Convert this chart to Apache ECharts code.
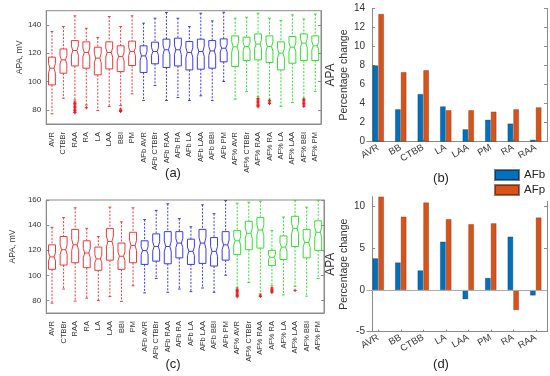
<!DOCTYPE html>
<html><head><meta charset="utf-8">
<script src="https://cdn.jsdelivr.net/npm/echarts@6/dist/echarts.min.js"></script>
<style>html,body{margin:0;padding:0;background:#fff}#c{width:550px;height:376px}</style>
</head><body><div id="c"></div>
<script>
const boxCats = ['AVR','CTBBr','RAA','RA','LA','LAA','BBI','PM',
  'AFb AVR','AFb CTBBr','AFb RAA','AFb RA','AFb LA','AFb LAA','AFb BBI','AFb PM',
  'AF% AVR','AF% CTBBr','AF% RAA','AF% RA','AF% LA','AF% LAA','AF% BBI','AF% PM'];
// each: [lower whisker, Q1, median, Q3, upper whisker]  (APA, mV)
const boxA = [
  [77.2,97.6,109.4,117.2,135.3],[88.2,105.9,115.3,123.0,138.8],[87.0,111.0,121.9,128.9,146.4],[83.5,109.4,120.5,128.0,137.6],
  [79.5,104.7,116.5,124.2,131.0],[82.4,108.9,120.5,128.0,145.9],[83.0,107.0,117.6,125.2,138.8],[91.3,111.3,121.2,128.5,146.4],
  [86.6,106.4,118.1,125.2,141.2],[97.2,112.5,121.2,127.8,144.7],[86.6,109.9,122.4,129.9,148.7],[88.7,111.0,122.4,130.6,144.7],
  [86.6,108.2,120.5,128.2,138.8],[89.9,108.7,121.2,129.9,148.2],[86.6,109.4,121.6,128.9,142.8],[100.0,113.9,123.5,130.1,148.9],
  [87.5,110.6,124.5,132.2,144.7],[92.9,114.8,124.7,131.3,145.4],[89.4,115.3,126.4,133.6,148.2],[87.5,113.4,124.7,132.2,144.7],
  [82.4,108.2,120.0,128.0,143.1],[85.2,112.9,124.2,131.8,147.1],[88.2,114.8,127.1,133.6,144.2],[92.9,114.8,125.2,132.2,147.6]
];
// outliers: [category index, value]
const outA = [
  [2,85.5],[2,84.5],[2,83.5],[2,82.5],[2,81.5],[2,80.5],[2,79.5],[2,78.5],[2,78.0],
  [3,81.5],[6,80.5],[6,79.5],[6,78.8],
  [18,88.0],[18,87.0],[18,86.0],[18,85.0],[18,84.0],[18,83.0],[18,82.2],
  [19,86.5],[19,85.5],[19,84.5],
  [22,87.5],[22,86.5],[22,85.5],[22,84.5],[22,83.5],[22,82.5]
];
const boxC = [
  [77.9,104.8,114.7,124.3,138.2],[89.1,108.2,120.4,130.9,146.0],[79.5,110.0,124.3,136.6,153.8],[81.8,106.1,117.8,127.5,137.4],
  [80.0,104.0,113.1,122.5,130.9],[83.1,112.1,127.0,137.4,154.3],[79.2,104.8,115.2,125.7,142.6],[91.7,110.0,123.8,134.3,153.8],
  [86.0,108.7,119.7,127.5,144.4],[97.5,111.3,123.0,133.0,151.7],[86.5,109.2,123.0,134.8,157.0],[89.1,113.9,125.7,134.8,145.2],
  [87.0,108.7,119.1,128.8,138.7],[89.9,109.5,125.7,136.6,156.2],[86.5,107.4,119.1,130.1,149.1],[100.1,112.1,124.3,134.8,159.6],
  [90.4,116.5,127.5,135.6,157.5],[94.3,120.4,133.5,143.1,158.3],[85.2,121.7,136.1,146.0,159.0],[91.7,107.9,114.4,119.9,135.6],
  [84.4,112.6,122.5,131.4,146.5],[91.2,123.0,137.4,147.0,159.6],[83.4,113.9,126.2,136.6,154.3],[97.5,119.9,134.3,143.4,159.8]
];
const outC = [
  [16,89.0],[16,88.0],[16,87.0],[16,86.0],[16,85.0],[16,84.0],[16,83.0],
  [18,84.2],[18,83.2],
  [19,90.0],[19,89.0],[19,88.0],[19,87.0],[19,86.5],
  [21,88.0]
];
const barCats = ['AVR','BB','CTBB','LA','LAA','PM','RA','RAA'];
const afbB = [8.0,3.4,5.0,3.7,1.3,2.3,1.9,0.2];
const afpB = [13.4,7.3,7.5,3.3,3.3,3.15,3.4,3.6];
const afbD = [3.8,3.3,2.35,5.8,-1.1,1.45,6.4,-0.65];
const afpD = [11.2,8.8,10.5,8.5,7.9,8.0,-2.4,8.7];
const yTicksA = [80,100,120,140];
const yTicksC = [80,100,120,140,160];
const yTicksD = [-5,0,5,10];

const groupColors = ['#f03a3a','#3a3af0','#33e033'];
const FONT = 'Liberation Sans, Arial, sans-serif';
const AX = '#8a8a8a';
const TXT = '#333';

function boxRender(params, api){
  const i = api.value(0);
  const lo=api.value(1), q1=api.value(2), md=api.value(3), q3=api.value(4), hi=api.value(5);
  const band = api.size([1,0])[0];
  const hw = band*0.3, cw = band*0.12;
  const c = groupColors[Math.floor(i/8)];
  const cx = api.coord([i, md])[0];
  const y = v => api.coord([i, v])[1];
  const n = Math.min((q3-q1)*0.17, md-q1, q3-md);
  const yq1=y(q1), yq3=y(q3), ym=y(md), yn1=y(md-n), yn2=y(md+n);
  const hn = hw*0.6;
  const dash = {stroke:c, lineWidth:1, lineDash:[2,1.5], fill:null};
  const solid = {stroke:c, lineWidth:1, fill:null};
  return {type:'group', children:[
    {type:'line', shape:{x1:cx,y1:y(hi),x2:cx,y2:yq3}, style:dash},
    {type:'line', shape:{x1:cx,y1:yq1,x2:cx,y2:y(lo)}, style:dash},
    {type:'line', shape:{x1:cx-cw,y1:y(hi),x2:cx+cw,y2:y(hi)}, style:solid},
    {type:'line', shape:{x1:cx-cw,y1:y(lo),x2:cx+cw,y2:y(lo)}, style:solid},
    {type:'polygon', shape:{points:[[cx-hw,yq1],[cx-hw,yn1],[cx-hn,ym],[cx-hw,yn2],[cx-hw,yq3],
      [cx+hw,yq3],[cx+hw,yn2],[cx+hn,ym],[cx+hw,yn1],[cx+hw,yq1]]}, style:{stroke:c,lineWidth:1,fill:'none'}},
    {type:'line', shape:{x1:cx-hn,y1:ym,x2:cx+hn,y2:ym}, style:solid}
  ]};
}
function outRender(params, api){
  const p = api.coord([api.value(0), api.value(1)]);
  const s = 1.6, st = {stroke:'#f01818', lineWidth:1};
  return {type:'group', children:[
    {type:'line', shape:{x1:p[0]-s,y1:p[1],x2:p[0]+s,y2:p[1]}, style:st},
    {type:'line', shape:{x1:p[0],y1:p[1]-s,x2:p[0],y2:p[1]+s}, style:st}
  ]};
}

function boxX(grid){
  return {gridIndex:grid, type:'category', data:boxCats,
    axisLine:{lineStyle:{color:AX}}, axisTick:{show:false},
    axisLabel:{rotate:90, interval:0, fontSize:7.5, color:TXT, margin:8, fontFamily:FONT}};
}
function boxY(grid, min, max, ticks, right){
  return {gridIndex:grid, type:'value', min:min, max:max, position: right?'right':'left',
    splitLine:{show:false}, axisLine:{show:true, lineStyle:{color:AX}},
    axisTick:{show:true, inside:true, length:3, customValues:ticks, lineStyle:{color:AX}},
    axisLabel:{show:!right, customValues:ticks, fontSize:8, color:TXT, margin:5, fontFamily:FONT},
    name: right?'':'APA, mV', nameLocation:'middle', nameGap:16, nameRotate:90,
    nameTextStyle:{fontSize:8.5, color:TXT, fontFamily:FONT, padding:[0,0,0,20]}};
}
function barX(grid){
  return {gridIndex:grid, type:'category', data:barCats, position:'bottom',
    axisLine:{onZero:false, lineStyle:{color:AX}},
    axisTick:{show:true, inside:true, alignWithLabel:true, length:2, lineStyle:{color:AX}},
    axisLabel:{rotate:30, interval:0, fontSize:9.5, color:TXT, margin:5, fontFamily:FONT}};
}
function barTop(grid){
  return {gridIndex:grid, type:'category', data:barCats, position:'top',
    axisLine:{lineStyle:{color:AX}}, axisTick:{show:false}, axisLabel:{show:false}};
}
function barY(grid, min, max, opts, right){
  const o = {gridIndex:grid, type:'value', min:min, max:max, position: right?'right':'left',
    offset: right?0:-5,
    splitLine:{show:false}, axisLine:{show:true, onZero:false, lineStyle:{color:AX}},
    axisTick:{show:true, inside:true, length:3, lineStyle:{color:AX}},
    axisLabel:{show:!right, fontSize:10, color:TXT, margin:7, fontFamily:FONT}};
  if (opts.interval) o.interval = opts.interval;
  if (opts.ticks){ o.axisTick.customValues = opts.ticks; o.axisLabel.customValues = opts.ticks; }
  if (!right){
    o.name = '{a|APA}\n{b|Percentage change}';
    o.nameLocation='middle'; o.nameGap=20; o.nameRotate=90;
    o.nameTextStyle = {color:TXT, fontFamily:FONT, rich:{a:{fontSize:12, lineHeight:14, fontFamily:FONT, color:TXT}, b:{fontSize:10.5, lineHeight:13, fontFamily:FONT, color:TXT}}};
  }
  return o;
}

const chart = echarts.init(document.getElementById('c'), null, {renderer:'canvas'});
chart.setOption({
  animation:false,
  textStyle:{fontFamily:FONT},
  grid:[
    {left:29, top:10.7, width:292, height:113.3, show:true, borderColor:AX, borderWidth:1, backgroundColor:'transparent'},
    {left:32, top:200, width:292, height:113, show:true, borderColor:AX, borderWidth:1, backgroundColor:'transparent'},
    {left:367, top:8.3, width:180, height:133.4},
    {left:367, top:196.7, width:180, height:135}
  ],
  xAxis:[boxX(0), boxX(1), barX(2), barX(3), barTop(2), barTop(3)],
  yAxis:[
    boxY(0,70,150,yTicksA,false), boxY(0,70,150,yTicksA,true),
    boxY(1,70,160,yTicksC,false), boxY(1,70,160,yTicksC,true),
    barY(2,0,14,{interval:2},false), barY(2,0,14,{interval:2},true),
    barY(3,-5,11.2,{ticks:yTicksD},false), barY(3,-5,11.2,{ticks:yTicksD},true)
  ],
  legend:{data:['AFb','AFp'], orient:'vertical', left:489, top:164, itemWidth:24, itemHeight:10, itemGap:3,
    icon:'rect', textStyle:{fontSize:11.5, color:'#222', fontFamily:FONT}, backgroundColor:'#fff'},
  series:[
    {type:'custom', xAxisIndex:0, yAxisIndex:0, renderItem:boxRender, encode:{x:0, y:[1,2,3,4,5]},
      data: boxA.map((d,i)=>[i].concat(d))},
    {type:'custom', xAxisIndex:0, yAxisIndex:0, renderItem:outRender, encode:{x:0, y:1}, data: outA},
    {type:'custom', xAxisIndex:1, yAxisIndex:2, renderItem:boxRender, encode:{x:0, y:[1,2,3,4,5]},
      data: boxC.map((d,i)=>[i].concat(d))},
    {type:'custom', xAxisIndex:1, yAxisIndex:2, renderItem:outRender, encode:{x:0, y:1}, data: outC},
    {type:'bar', name:'AFb', xAxisIndex:2, yAxisIndex:4, data:afbB, barWidth:5.5, barGap:'5%',
      itemStyle:{color:'#0072BD', borderColor:'rgba(20,20,40,0.55)', borderWidth:0.5}},
    {type:'bar', name:'AFp', xAxisIndex:2, yAxisIndex:4, data:afpB, barWidth:5.5, barGap:'5%',
      itemStyle:{color:'#D95319', borderColor:'rgba(60,20,10,0.55)', borderWidth:0.5}},
    {type:'bar', name:'AFb', xAxisIndex:3, yAxisIndex:6, data:afbD, barWidth:5.5, barGap:'5%',
      itemStyle:{color:'#0072BD', borderColor:'rgba(20,20,40,0.55)', borderWidth:0.5},
      markLine:{silent:true, symbol:'none', label:{show:false}, lineStyle:{color:'#aaa', type:'solid', width:1},
        data:[{yAxis:0}]}},
    {type:'bar', name:'AFp', xAxisIndex:3, yAxisIndex:6, data:afpD, barWidth:5.5, barGap:'5%',
      itemStyle:{color:'#D95319', borderColor:'rgba(60,20,10,0.55)', borderWidth:0.5}}
  ],
  graphic:[
    {type:'text', x:173, y:173, style:{text:'(a)', fontSize:13, fill:'#222', align:'center', verticalAlign:'middle', textAlign:'center', textVerticalAlign:'middle', fontFamily:FONT}},
    {type:'text', x:173, y:364, style:{text:'(c)', fontSize:13, fill:'#222', align:'center', verticalAlign:'middle', textAlign:'center', textVerticalAlign:'middle', fontFamily:FONT}},
    {type:'text', x:441, y:178, style:{text:'(b)', fontSize:13, fill:'#222', align:'center', verticalAlign:'middle', textAlign:'center', textVerticalAlign:'middle', fontFamily:FONT}},
    {type:'text', x:441, y:364, style:{text:'(d)', fontSize:13, fill:'#222', align:'center', verticalAlign:'middle', textAlign:'center', textVerticalAlign:'middle', fontFamily:FONT}}
  ]
});
</script></body></html>
